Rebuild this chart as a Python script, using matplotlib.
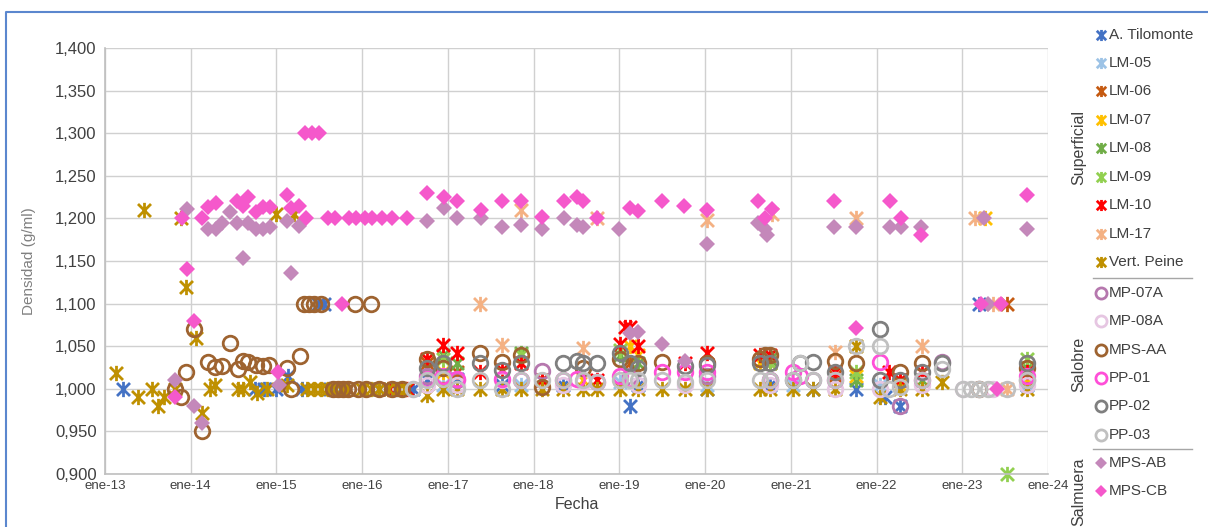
from datetime import datetime, timedelta
import matplotlib
matplotlib.use("Agg")
import matplotlib.pyplot as plt
import matplotlib.dates as mdates
from matplotlib.path import Path
from matplotlib.lines import Line2D

plt.rcParams['font.family'] = ['Liberation Sans', 'DejaVu Sans']

# data: (decimal year, density g/ml) per monitoring point
tilomonte = [(2013.21, 1.000), (2014.75, 1.000), (2014.85, 1.000), (2015.0, 1.000), (2015.14, 1.015),
             (2015.3, 1.000), (2015.48, 1.100), (2015.55, 1.100), (2015.62, 1.000), (2015.75, 1.000),
             (2016.2, 1.000), (2016.4, 1.000), (2016.6, 1.000), (2016.76, 1.010), (2017.10, 1.012),
             (2017.63, 1.005), (2018.34, 1.005), (2019.12, 0.980), (2019.22, 1.005), (2020.02, 1.000),
             (2020.76, 1.005), (2021.26, 1.000), (2021.76, 1.000), (2022.10, 0.990), (2022.27, 0.980),
             (2023.20, 1.100), (2023.76, 1.005)]
lm05 = [(2016.94, 1.005), (2017.85, 1.005), (2019.01, 1.008), (2020.02, 1.005), (2021.02, 1.005),
        (2022.04, 1.005), (2023.76, 1.005)]
lm06 = [(2016.76, 1.030), (2017.10, 1.020), (2018.10, 1.010), (2019.12, 1.030), (2020.76, 1.030),
        (2021.51, 1.015), (2022.27, 1.010), (2023.52, 1.100), (2023.76, 1.020)]
lm07 = [(2016.94, 1.020), (2018.57, 1.010), (2019.12, 1.050), (2019.22, 1.040), (2020.64, 1.030),
        (2021.76, 1.015), (2022.27, 1.005), (2023.27, 1.200), (2023.76, 1.010)]
lm08 = [(2016.76, 1.025), (2016.94, 1.040), (2017.10, 1.030), (2017.85, 1.042), (2019.01, 1.040),
        (2019.22, 1.030), (2020.76, 1.035), (2021.76, 1.010), (2022.53, 1.010), (2023.76, 1.025)]
lm09 = [(2016.94, 1.035), (2017.85, 1.040), (2019.01, 1.045), (2020.76, 1.030), (2021.76, 1.020),
        (2023.52, 0.900), (2023.76, 1.035)]
lm10 = [(2016.32, 1.000), (2016.53, 1.000), (2016.76, 1.035), (2016.94, 1.051), (2017.10, 1.042),
        (2017.37, 1.020), (2017.63, 1.022), (2017.85, 1.030), (2018.10, 1.010), (2018.74, 1.010),
        (2019.01, 1.052), (2019.07, 1.072), (2019.12, 1.072), (2019.22, 1.050), (2019.76, 1.030),
        (2020.02, 1.042), (2020.64, 1.040), (2020.76, 1.040), (2021.51, 1.020), (2022.15, 1.020),
        (2022.27, 1.010), (2022.53, 1.020), (2023.76, 1.020)]
lm17 = [(2017.37, 1.100), (2017.63, 1.051), (2017.85, 1.210), (2018.57, 1.048), (2018.74, 1.200),
        (2020.02, 1.198), (2020.78, 1.205), (2021.51, 1.043), (2021.76, 1.200), (2022.53, 1.050),
        (2023.15, 1.200), (2023.36, 1.100), (2023.52, 1.000)]
vert_peine = [(2013.13, 1.019), (2013.38, 0.990), (2013.45, 1.210), (2013.55, 1.000), (2013.62, 0.980),
              (2013.69, 0.990), (2013.82, 1.000), (2013.89, 1.200), (2013.95, 1.120), (2014.06, 1.060),
              (2014.13, 0.972), (2014.23, 1.000), (2014.28, 1.005), (2014.55, 1.000), (2014.61, 1.000),
              (2014.69, 1.008), (2014.77, 0.995), (2014.89, 1.000), (2015.0, 1.205), (2015.12, 1.005),
              (2015.2, 1.205), (2015.36, 1.000), (2015.44, 1.000), (2015.52, 1.000), (2015.6, 1.000),
              (2015.68, 1.000), (2015.76, 1.000), (2015.84, 1.000), (2016.0, 1.000), (2016.1, 1.000),
              (2016.2, 1.000), (2016.3, 1.000), (2016.42, 1.000), (2016.5, 1.000),
              (2016.76, 0.993), (2016.94, 1.000), (2017.10, 1.000), (2017.37, 1.000), (2017.63, 1.000),
              (2017.85, 1.000), (2018.10, 1.000), (2018.34, 1.000), (2018.57, 1.000), (2018.74, 1.000),
              (2019.01, 1.000), (2019.22, 1.000), (2019.50, 1.000), (2019.76, 1.000), (2020.02, 1.000),
              (2020.64, 1.000), (2020.76, 1.000), (2021.02, 1.000), (2021.26, 1.000), (2021.51, 1.000),
              (2021.76, 1.050), (2022.04, 0.990), (2022.27, 1.000), (2022.53, 1.000), (2022.76, 1.008),
              (2023.76, 1.000)]
mp07a = [(2016.76, 1.015), (2017.10, 1.010), (2018.10, 1.021), (2019.12, 1.015), (2020.02, 1.015),
         (2020.76, 1.010), (2021.26, 1.010), (2022.27, 0.980), (2022.76, 1.032), (2023.76, 1.010)]
mp08a = [(2016.6, 1.000), (2016.76, 1.005), (2017.10, 1.005), (2017.63, 1.010), (2018.34, 1.005),
         (2018.57, 1.008), (2019.22, 1.005), (2019.76, 1.005), (2020.76, 1.005), (2021.51, 1.000),
         (2022.04, 1.000), (2022.53, 1.005), (2023.01, 1.000), (2023.20, 1.000), (2023.36, 1.000),
         (2023.76, 1.005)]
mps_aa = [(2013.82, 1.000), (2013.89, 0.990), (2013.95, 1.020), (2014.04, 1.070), (2014.13, 0.950),
          (2014.20, 1.031), (2014.28, 1.026), (2014.37, 1.027), (2014.46, 1.054), (2014.55, 1.023),
          (2014.61, 1.033), (2014.67, 1.032), (2014.76, 1.028), (2014.84, 1.027), (2014.91, 1.028),
          (2015.12, 1.025), (2015.17, 1.000), (2015.28, 1.039), (2015.32, 1.100), (2015.38, 1.100),
          (2015.44, 1.100), (2015.52, 1.100), (2015.92, 1.100), (2016.10, 1.100),
          (2015.66, 1.000), (2015.72, 1.000), (2015.78, 1.000), (2015.84, 1.000), (2015.95, 1.000),
          (2016.05, 1.000), (2016.2, 1.000), (2016.35, 1.000), (2016.47, 1.000),
          (2016.76, 1.035), (2016.94, 1.025), (2017.37, 1.042), (2017.63, 1.032), (2017.85, 1.040),
          (2018.10, 1.002), (2018.57, 1.025), (2019.01, 1.035), (2019.22, 1.030), (2019.50, 1.032),
          (2020.02, 1.030), (2020.64, 1.035), (2020.70, 1.040), (2020.76, 1.040), (2021.51, 1.033),
          (2021.76, 1.030), (2022.27, 1.020), (2022.53, 1.030), (2023.20, 1.000), (2023.76, 1.025)]
pp01 = [(2016.76, 1.012), (2016.94, 1.015), (2017.10, 1.012), (2017.63, 1.012), (2017.85, 1.010),
        (2018.34, 1.010), (2018.50, 1.012), (2018.74, 1.008), (2019.01, 1.015), (2019.12, 1.012),
        (2019.50, 1.020), (2019.76, 1.020), (2020.02, 1.020), (2020.76, 1.010), (2021.02, 1.020),
        (2021.10, 1.015), (2021.51, 1.010), (2022.04, 1.032), (2022.53, 1.010), (2023.76, 1.015)]
pp02 = [(2016.76, 1.025), (2016.94, 1.030), (2017.37, 1.030), (2017.63, 1.022), (2017.85, 1.030),
        (2018.34, 1.030), (2018.50, 1.033), (2018.57, 1.030), (2018.74, 1.030), (2019.01, 1.042),
        (2019.12, 1.030), (2019.22, 1.025), (2019.76, 1.027), (2020.02, 1.028), (2020.64, 1.030),
        (2020.76, 1.030), (2021.02, 1.010), (2021.10, 1.030), (2021.26, 1.032), (2021.51, 1.020),
        (2022.04, 1.070), (2022.04, 1.010), (2022.27, 1.010), (2022.53, 1.020), (2022.76, 1.030),
        (2023.76, 1.030)]
pp03 = [(2016.6, 1.000), (2016.76, 1.010), (2016.94, 1.012), (2017.10, 1.000), (2017.37, 1.010),
        (2017.63, 1.000), (2017.85, 1.010), (2018.10, 1.010), (2018.34, 1.010), (2018.57, 1.010),
        (2018.74, 1.008), (2019.01, 1.010), (2019.12, 1.010), (2019.22, 1.010), (2019.50, 1.010),
        (2019.76, 1.008), (2020.02, 1.010), (2020.64, 1.010), (2020.76, 1.010), (2021.02, 1.010),
        (2021.10, 1.030), (2021.26, 1.010), (2021.51, 1.010), (2021.76, 1.050), (2022.04, 1.050),
        (2022.15, 1.000), (2022.27, 1.002), (2022.53, 1.010), (2022.76, 1.023), (2023.01, 1.000),
        (2023.10, 1.000), (2023.20, 1.000), (2023.30, 1.000), (2023.52, 1.000), (2023.76, 1.010)]
mps_ab = [(2013.82, 1.010), (2013.96, 1.211), (2014.04, 0.980), (2014.13, 0.960), (2014.20, 1.187),
          (2014.30, 1.187), (2014.37, 1.195), (2014.46, 1.208), (2014.54, 1.195), (2014.61, 1.153),
          (2014.67, 1.195), (2014.76, 1.188), (2014.84, 1.188), (2014.92, 1.190), (2015.03, 1.004),
          (2015.12, 1.197), (2015.17, 1.136), (2015.26, 1.191),
          (2016.76, 1.197), (2016.95, 1.212), (2017.10, 1.200), (2017.38, 1.200), (2017.63, 1.190),
          (2017.85, 1.192), (2018.10, 1.187), (2018.35, 1.200), (2018.50, 1.192), (2018.58, 1.190),
          (2019.00, 1.187), (2019.12, 1.065), (2019.22, 1.067), (2019.50, 1.053), (2019.76, 1.033),
          (2020.02, 1.170), (2020.62, 1.195), (2020.70, 1.187), (2020.72, 1.180), (2021.50, 1.190),
          (2021.76, 1.190), (2022.16, 1.190), (2022.28, 1.190), (2022.52, 1.190), (2023.25, 1.200),
          (2023.30, 1.100), (2023.76, 1.188)]
mps_cb = [(2013.82, 0.990), (2013.90, 1.200), (2013.96, 1.141), (2014.04, 1.080), (2014.13, 1.200),
          (2014.20, 1.213), (2014.30, 1.218), (2014.54, 1.220), (2014.61, 1.215), (2014.67, 1.225),
          (2014.76, 1.208), (2014.84, 1.213), (2014.92, 1.213), (2015.02, 1.020), (2015.12, 1.228),
          (2015.17, 1.212), (2015.26, 1.215), (2015.33, 1.300), (2015.42, 1.300), (2015.50, 1.300),
          (2015.35, 1.200), (2015.60, 1.200), (2015.68, 1.200), (2015.77, 1.100), (2015.85, 1.200),
          (2015.93, 1.200), (2016.03, 1.200), (2016.12, 1.200), (2016.23, 1.200), (2016.35, 1.200),
          (2016.52, 1.200),
          (2016.76, 1.230), (2016.96, 1.225), (2017.10, 1.220), (2017.38, 1.210), (2017.63, 1.220),
          (2017.85, 1.220), (2018.10, 1.202), (2018.35, 1.220), (2018.50, 1.225), (2018.58, 1.220),
          (2018.74, 1.200), (2019.13, 1.212), (2019.22, 1.209), (2019.50, 1.220), (2019.75, 1.215),
          (2020.02, 1.210), (2020.62, 1.220), (2020.70, 1.200), (2020.78, 1.211), (2021.50, 1.220),
          (2021.76, 1.071), (2022.16, 1.220), (2022.29, 1.200), (2022.52, 1.180), (2023.22, 1.100),
          (2023.40, 1.000), (2023.45, 1.100), (2023.76, 1.228)]

series_names = ['A. Tilomonte', 'LM-05', 'LM-06', 'LM-07', 'LM-08', 'LM-09', 'LM-10', 'LM-17',
                'Vert. Peine', 'MP-07A', 'MP-08A', 'MPS-AA', 'PP-01', 'PP-02', 'PP-03', 'MPS-AB', 'MPS-CB']
series_data = [tilomonte, lm05, lm06, lm07, lm08, lm09, lm10, lm17, vert_peine,
               mp07a, mp08a, mps_aa, pp01, pp02, pp03, mps_ab, mps_cb]
colors = ['#4472C4', '#9DC3E6', '#C55A11', '#FFC000', '#70AD47', '#92D050', '#FF0000', '#F4B183',
          '#BF9000', '#B678AE', '#E6C6E2', '#9E6330', '#FF4FD8', '#7F7F7F', '#C0C0C0', '#C488BA', '#F558CB']
kinds = ['star'] * 9 + ['circle'] * 6 + ['diamond'] * 2
years = list(range(2013, 2025))

# excel-like asterisk: X plus vertical bar
star = Path([(-0.85, -0.85), (0.85, 0.85), (-0.85, 0.85), (0.85, -0.85), (0, -1), (0, 1)],
            [Path.MOVETO, Path.LINETO, Path.MOVETO, Path.LINETO, Path.MOVETO, Path.LINETO])


def to_date(y):
    return datetime(int(y), 1, 1) + timedelta(days=(y - int(y)) * 365.25)


def style(kind, c):
    if kind == 'star':
        return dict(marker=star, markersize=11, markeredgewidth=2, color=c)
    if kind == 'circle':
        return dict(marker='o', markersize=10.5, markerfacecolor='none', markeredgewidth=2, color=c)
    return dict(marker='D', markersize=8, markeredgewidth=0, color=c)


W, H = 1208, 527
fig = plt.figure(figsize=(W / 100, H / 100), dpi=100)
ax = fig.add_axes([105 / W, 1 - 474 / H, (1048 - 105) / W, (474 - 48) / H])

for name, data, c, k in zip(series_names, series_data, colors, kinds):
    xs = [to_date(p[0]) for p in data]
    ys = [p[1] for p in data]
    ax.plot(xs, ys, linestyle='none', clip_on=False, **style(k, c))

ax.set_xlim(datetime(2013, 1, 1), datetime(2024, 1, 1))
ax.set_ylim(0.9, 1.4)
ax.set_xticks([datetime(y, 1, 1) for y in years])
ax.set_xticklabels(['ene-%02d' % (y % 100) for y in years], fontsize=9.5, color='#404040')
yt = [0.9 + 0.05 * i for i in range(11)]
ax.set_yticks(yt)
ax.set_yticklabels([('%.3f' % v).replace('.', ',') for v in yt], fontsize=12, color='#404040')
ax.tick_params(length=0, pad=6)
ax.tick_params(axis='x', pad=4)
ax.grid(True, color='#D0D0D0', linewidth=1)
ax.set_axisbelow(True)
for s in ['top', 'right']:
    ax.spines[s].set_visible(False)
for s in ['left', 'bottom']:
    ax.spines[s].set_color('#BFBFBF')
    ax.spines[s].set_linewidth(1.2)
ax.set_ylabel('Densidad (g/ml)', fontsize=11, color='#808080', labelpad=14)
ax.set_xlabel('Fecha', fontsize=11.5, color='#404040', labelpad=4)

# outer chart frame
fig.add_artist(Line2D([6 / W, 6 / W, 1.0], [0, 1 - 12 / H, 1 - 12 / H],
                      transform=fig.transFigure, color='#5B87CE', linewidth=1.5))

# grouped legend on the right
rows = [35, 63, 91, 120, 148, 177, 205, 234, 262, 293, 321, 350, 378, 406, 435, 463, 491]
leg_size = {'star': 8, 'circle': 8, 'diamond': 6.5}
for name, c, k, py in zip(series_names, colors, kinds, rows):
    st = style(k, c)
    st['markersize'] = leg_size[k]
    st['markeredgewidth'] = min(st['markeredgewidth'], 2)
    fig.add_artist(Line2D([1101 / W], [1 - py / H], transform=fig.transFigure, linestyle='none', **st))
    fig.text(1109 / W, 1 - py / H, name, fontsize=11, color='#404040', va='center', ha='left')
for py in [278, 449]:
    fig.add_artist(Line2D([1093 / W, 1192 / W], [1 - py / H] * 2, transform=fig.transFigure,
                          color='#A6A6A6', linewidth=1))
for label, py in [('Superficial', 148), ('Salobre', 364), ('Salmuera', 492)]:
    fig.text(1079 / W, 1 - py / H, label, fontsize=11.5, color='#404040', rotation=90,
             va='center', ha='center')

fig.savefig('out.png', dpi=100)
